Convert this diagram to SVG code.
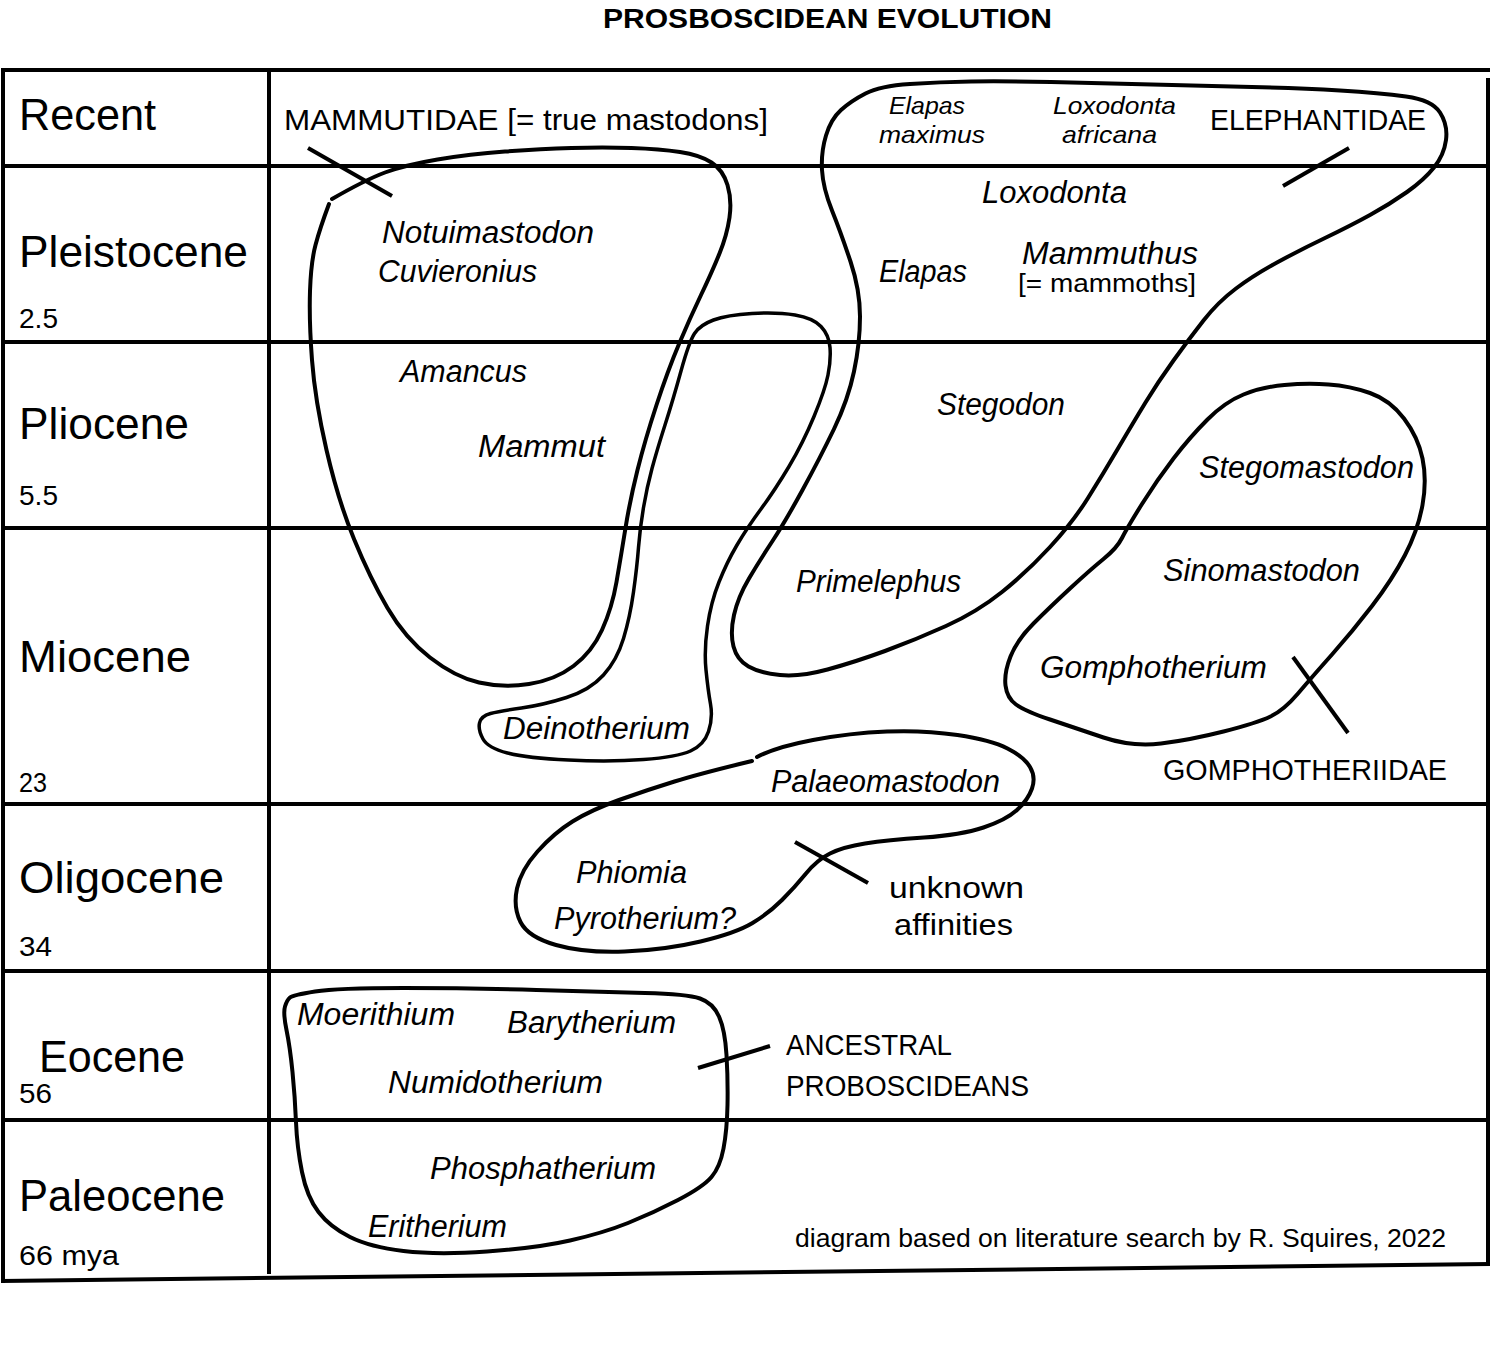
<svg xmlns="http://www.w3.org/2000/svg" width="1492" height="1353" viewBox="0 0 1492 1353">
<style>
.grid{stroke:#000;stroke-width:4;fill:none}
.clade{fill:none;stroke:#000;stroke-width:4;stroke-linecap:round;stroke-linejoin:round}
.tick{stroke:#000;stroke-width:4;stroke-linecap:butt}
text{font-family:"Liberation Sans",Arial,sans-serif;fill:#000}
.per{font-size:45px}
.num{font-size:27px}
.it{font-style:italic;font-size:31px}
.its{font-style:italic;font-size:24px}
.cap{font-size:29px}
.title{font-size:27px;font-weight:bold}
</style>
<rect x="0" y="0" width="1492" height="1353" fill="#fff"/>
<text class="title" x="603" y="28" textLength="449" lengthAdjust="spacingAndGlyphs">PROSBOSCIDEAN EVOLUTION</text>

<g id="grid">
<line class="grid" x1="1" y1="70" x2="1490" y2="70"/>
<line class="grid" x1="3" y1="68" x2="3" y2="1283"/>
<line class="grid" x1="1488" y1="78" x2="1488" y2="1266"/>
<line class="grid" x1="1" y1="1281" x2="1490" y2="1264"/>
<line class="grid" x1="269" y1="70" x2="269" y2="1274"/>
<line class="grid" x1="3" y1="166" x2="1488" y2="166"/>
<line class="grid" x1="3" y1="342" x2="1488" y2="342"/>
<line class="grid" x1="3" y1="528" x2="1488" y2="528"/>
<line class="grid" x1="3" y1="804" x2="1488" y2="804"/>
<line class="grid" x1="3" y1="971" x2="1488" y2="971"/>
<line class="grid" x1="3" y1="1120" x2="1488" y2="1120"/>
</g>

<g id="periods">
<text class="per" x="19" y="130" textLength="137" lengthAdjust="spacingAndGlyphs">Recent</text>
<text class="per" x="19" y="267" textLength="229" lengthAdjust="spacingAndGlyphs">Pleistocene</text>
<text class="num" x="19" y="328" textLength="39" lengthAdjust="spacingAndGlyphs">2.5</text>
<text class="per" x="19" y="439" textLength="170" lengthAdjust="spacingAndGlyphs">Pliocene</text>
<text class="num" x="19" y="505" textLength="39" lengthAdjust="spacingAndGlyphs">5.5</text>
<text class="per" x="19" y="672" textLength="172" lengthAdjust="spacingAndGlyphs">Miocene</text>
<text class="num" x="19" y="792" textLength="28" lengthAdjust="spacingAndGlyphs">23</text>
<text class="per" x="19" y="893" textLength="205" lengthAdjust="spacingAndGlyphs">Oligocene</text>
<text class="num" x="19" y="956" textLength="33" lengthAdjust="spacingAndGlyphs">34</text>
<text class="per" x="39" y="1072" textLength="146" lengthAdjust="spacingAndGlyphs">Eocene</text>
<text class="num" x="19" y="1103" textLength="33" lengthAdjust="spacingAndGlyphs">56</text>
<text class="per" x="19" y="1211" textLength="206" lengthAdjust="spacingAndGlyphs">Paleocene</text>
<text class="num" x="19" y="1265" textLength="100" lengthAdjust="spacingAndGlyphs">66 mya</text>
</g>

<g id="mammutidae">
<path class="clade" d="M332,199 Q365,180 385,172.5 Q405,165 437.5,159.5 Q470,154 505,151.5 Q540,149 571.5,148 Q603,147 631.5,148 Q660,149 680,152 Q700,155 711.5,162.5 Q723,170 727.5,185 Q732,200 729.5,217.5 Q727,235 719.5,253.5 Q712,272 701,295 Q690,318 679,344 Q668,370 656.5,405 Q645,440 637.5,470 Q630,500 625.5,528 Q621,556 616.5,582 Q612,608 602,630 Q592,652 573.5,666 Q555,680 529,684 Q503,688 479,682.5 Q455,677 430,657.5 Q405,638 387.5,608 Q370,578 354,539 Q338,500 326.5,450 Q315,400 312,360 Q309,320 310,291 Q311,262 315.5,245 Q320,228 329,204"/>
<text class="cap" x="284" y="130" textLength="484" lengthAdjust="spacingAndGlyphs">MAMMUTIDAE [= true mastodons]</text>
<text class="it" x="382" y="243" textLength="212" lengthAdjust="spacingAndGlyphs">Notuimastodon</text>
<text class="it" x="378" y="282" textLength="159" lengthAdjust="spacingAndGlyphs">Cuvieronius</text>
<text class="it" x="400" y="382" textLength="127" lengthAdjust="spacingAndGlyphs">Amancus</text>
<text class="it" x="478" y="457" textLength="127" lengthAdjust="spacingAndGlyphs">Mammut</text>
</g>

<g id="deinotheriidae">
<path class="clade" style="stroke-width:3.5" d="M681,371 Q689,342 694.5,333.5 Q700,325 713.5,320 Q727,315 752,313.5 Q777,312 795,315 Q813,318 821,326.5 Q829,335 830,347.5 Q831,360 828,375 Q825,390 814,416.5 Q803,443 789,466.5 Q775,490 761,509 Q747,528 737,545 Q727,562 719,582 Q711,602 707.5,626 Q704,650 706,670 Q708,690 710.5,704 Q713,718 708.5,731.5 Q704,745 690.5,751 Q677,757 643.5,759.5 Q610,762 568.5,760 Q527,758 507.5,753 Q488,748 483,739 Q478,730 479.5,723 Q481,716 490.5,713.5 Q500,711 521.5,708 Q543,705 566.5,697.5 Q590,690 603.5,675 Q617,660 623.5,638.5 Q630,617 633.5,592 Q637,567 638.5,547.5 Q640,528 643.5,507.5 Q647,487 652,468.5 Q657,450 665,425 Q673,400 681,371 Z"/>
<text class="it" x="503" y="739" textLength="187" lengthAdjust="spacingAndGlyphs">Deinotherium</text>
</g>

<g id="elephantidae">
<path class="clade" d="M841,110 Q851,101 865.5,93.5 Q880,86 910,84 Q940,82 971,81.5 Q1002,81 1051,82 Q1100,83 1152,84.5 Q1204,86 1252,87 Q1300,88 1340,90.5 Q1380,93 1406,96.5 Q1432,100 1440,112.5 Q1448,125 1446,140 Q1444,155 1434,167.5 Q1424,180 1407,192 Q1390,204 1370,215 Q1350,226 1325,238 Q1300,250 1277,262.5 Q1254,275 1236,288.5 Q1218,302 1203.5,320.5 Q1189,339 1173.5,360.5 Q1158,382 1145.5,402.5 Q1133,423 1118,448.5 Q1103,474 1088,498 Q1073,522 1050,547 Q1027,572 1002,592 Q977,612 946,626 Q915,640 885,651 Q855,662 827.5,669.5 Q800,677 780,675 Q760,673 748.5,666.5 Q737,660 733.5,646.5 Q730,633 734,615 Q738,597 749,578.5 Q760,560 772.5,541 Q785,522 802.5,490 Q820,458 834,429 Q848,400 854,371.5 Q860,343 860,316.5 Q860,290 850.5,261.5 Q841,233 832,210.5 Q823,188 822,170 Q821,152 826,135.5 Q831,119 841,110 Z"/>
<text class="its" x="889" y="114" textLength="76" lengthAdjust="spacingAndGlyphs">Elapas</text>
<text class="its" x="879" y="143" textLength="106" lengthAdjust="spacingAndGlyphs">maximus</text>
<text class="its" x="1053" y="114" textLength="123" lengthAdjust="spacingAndGlyphs">Loxodonta</text>
<text class="its" x="1062" y="143" textLength="95" lengthAdjust="spacingAndGlyphs">africana</text>
<text class="cap" x="1210" y="130" textLength="216" lengthAdjust="spacingAndGlyphs">ELEPHANTIDAE</text>
<text class="it" x="982" y="203" textLength="145" lengthAdjust="spacingAndGlyphs">Loxodonta</text>
<text class="it" x="879" y="282" textLength="88" lengthAdjust="spacingAndGlyphs">Elapas</text>
<text class="it" x="1022" y="264" textLength="176" lengthAdjust="spacingAndGlyphs">Mammuthus</text>
<text x="1018" y="292" style="font-size:26px" textLength="178" lengthAdjust="spacingAndGlyphs">[= mammoths]</text>
<text class="it" x="937" y="415" textLength="128" lengthAdjust="spacingAndGlyphs">Stegodon</text>
<text class="it" x="796" y="592" textLength="165" lengthAdjust="spacingAndGlyphs">Primelephus</text>
</g>

<g id="gomphotheriidae">
<path class="clade" d="M1284.5,385 Q1307,383 1328.5,384.5 Q1350,386 1370,393 Q1390,400 1404,418.5 Q1418,437 1422.5,458.5 Q1427,480 1422.5,505 Q1418,530 1405,555 Q1392,580 1372,606 Q1352,632 1332,654.5 Q1312,677 1298,693.5 Q1284,710 1270.5,716.5 Q1257,723 1223.5,731.5 Q1190,740 1161,743.5 Q1132,747 1103.5,737.5 Q1075,728 1050,719.5 Q1025,711 1016,704.5 Q1007,698 1005.5,685.5 Q1004,673 1010.5,656.5 Q1017,640 1033.5,623.5 Q1050,607 1070,588.5 Q1090,570 1103.5,559 Q1117,548 1122,538 Q1127,528 1142,504 Q1157,480 1173.5,458.5 Q1190,437 1207.5,419.5 Q1225,402 1243.5,394.5 Q1262,387 1284.5,385 Z"/>
<text class="it" x="1199" y="478" textLength="215" lengthAdjust="spacingAndGlyphs">Stegomastodon</text>
<text class="it" x="1163" y="581" textLength="197" lengthAdjust="spacingAndGlyphs">Sinomastodon</text>
<text class="it" x="1040" y="678" textLength="227" lengthAdjust="spacingAndGlyphs">Gomphotherium</text>
<text class="cap" x="1163" y="780" textLength="284" lengthAdjust="spacingAndGlyphs">GOMPHOTHERIIDAE</text>
</g>

<g id="unknown-affinities">
<path class="clade" d="M757,757 Q776,747 813,740 Q850,733 887,731.5 Q924,730 957.5,735 Q991,740 1007.5,748.5 Q1024,757 1030,767 Q1036,777 1032,788.5 Q1028,800 1017,810 Q1006,820 983.5,827.5 Q961,835 924,837.5 Q887,840 865,843.5 Q843,847 830,853.5 Q817,860 806,873.5 Q795,887 782,900 Q769,913 752.5,923 Q736,933 700.5,941.5 Q665,950 624.5,951.5 Q584,953 556,945 Q528,937 520.5,922 Q513,907 517,888.5 Q521,870 537.5,851.5 Q554,833 572.5,821.5 Q591,810 619,800 Q647,790 674.5,781.5 Q702,773 752,761"/>
<text class="it" x="771" y="792" textLength="229" lengthAdjust="spacingAndGlyphs">Palaeomastodon</text>
<text class="it" x="576" y="883" textLength="111" lengthAdjust="spacingAndGlyphs">Phiomia</text>
<text class="it" x="554" y="929" textLength="182" lengthAdjust="spacingAndGlyphs">Pyrotherium?</text>
<text class="cap" x="889" y="898" style="font-size:30px" textLength="135" lengthAdjust="spacingAndGlyphs">unknown</text>
<text class="cap" x="894" y="935" style="font-size:30px" textLength="119" lengthAdjust="spacingAndGlyphs">affinities</text>
</g>

<g id="ancestral-proboscideans">
<path class="clade" d="M290,997.5 Q293,995 315,991.5 Q337,988 403.5,988 Q470,988 536.5,990 Q603,992 645,993 Q687,994 700,998.5 Q713,1003 719,1016.5 Q725,1030 726.5,1055 Q728,1080 727.5,1105 Q727,1130 723.5,1148.5 Q720,1167 711.5,1177 Q703,1187 678,1200 Q653,1213 628,1223 Q603,1233 570,1240.5 Q537,1248 487,1251.5 Q437,1255 403.5,1251 Q370,1247 350,1237 Q330,1227 318.5,1212 Q307,1197 302,1172 Q297,1147 296,1122 Q295,1097 292.5,1072 Q290,1047 286.5,1030 Q283,1013 285,1006.5 Q287,1000 290,997.5 Z"/>
<text class="it" x="297" y="1025" textLength="158" lengthAdjust="spacingAndGlyphs">Moerithium</text>
<text class="it" x="507" y="1033" textLength="169" lengthAdjust="spacingAndGlyphs">Barytherium</text>
<text class="it" x="388" y="1093" textLength="215" lengthAdjust="spacingAndGlyphs">Numidotherium</text>
<text class="it" x="430" y="1179" textLength="226" lengthAdjust="spacingAndGlyphs">Phosphatherium</text>
<text class="it" x="368" y="1237" textLength="139" lengthAdjust="spacingAndGlyphs">Eritherium</text>
<text class="cap" x="786" y="1055" textLength="166" lengthAdjust="spacingAndGlyphs">ANCESTRAL</text>
<text class="cap" x="786" y="1096" textLength="243" lengthAdjust="spacingAndGlyphs">PROBOSCIDEANS</text>
</g>

<g id="connectors">
<line class="tick" x1="308" y1="148" x2="392" y2="196"/>
<line class="tick" x1="1283" y1="186" x2="1349" y2="148"/>
<line class="tick" x1="1293" y1="657" x2="1348" y2="733"/>
<line class="tick" x1="795" y1="842" x2="868" y2="883"/>
<line class="tick" x1="698" y1="1068" x2="770" y2="1046"/>
</g>

<text x="795" y="1247" style="font-size:26px" textLength="651" lengthAdjust="spacingAndGlyphs">diagram based on literature search by R. Squires, 2022</text>
</svg>
